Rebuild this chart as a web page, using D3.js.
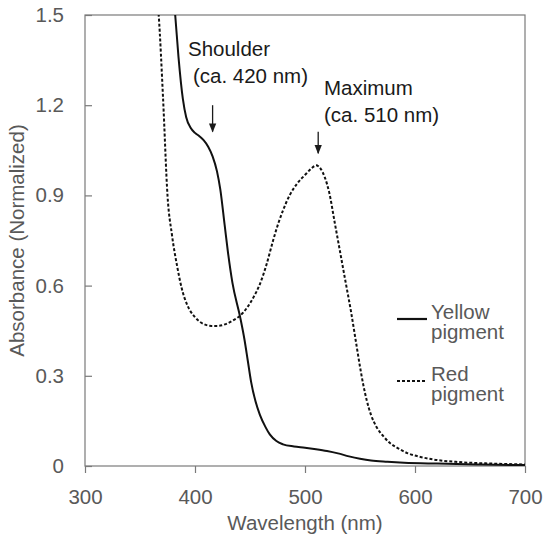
<!DOCTYPE html>
<html lang="en">
  <head>
    <meta charset="UTF-8" />
    <title>Absorbance spectra</title>
    <script src="https://cdnjs.cloudflare.com/ajax/libs/d3/7.8.5/d3.min.js"></script>
    <style>
      body {
        margin: 0;
        background: #fff;
      }
      text {
        font-family: "Liberation Sans", Arial, sans-serif;
      }
      .tick-label,
      .axis-title,
      .legend-text {
        fill: #595959;
        font-size: 20.5px;
      }
      .note {
        fill: #1a1a1a;
        font-size: 20.5px;
      }
    </style>
  </head>
  <body>
    <div id="chart"></div>
    <script>
      // spectra: [wavelength nm, normalized absorbance]
      const yellowPigment = [
        [379, 1.62], [382, 1.5], [385, 1.36], [389, 1.22], [392, 1.16],
        [396, 1.125], [400, 1.108], [404, 1.097], [408, 1.083], [412, 1.062],
        [416, 1.03], [420, 0.98], [423, 0.92], [427, 0.8], [430, 0.71],
        [434, 0.61], [441, 0.496], [445, 0.42], [448, 0.35], [451, 0.28],
        [455, 0.215], [459, 0.17], [464, 0.13], [468, 0.105], [474, 0.083],
        [480, 0.072], [490, 0.065], [500, 0.061], [510, 0.056], [520, 0.05],
        [530, 0.042], [540, 0.032], [550, 0.024], [560, 0.018], [575, 0.014],
        [590, 0.011], [620, 0.008], [660, 0.005], [700, 0.003]
      ];
      const redPigment = [
        [364, 1.62], [367, 1.5], [371, 1.22], [375, 0.9], [379, 0.77],
        [384, 0.66], [388, 0.59], [393, 0.535], [400, 0.495], [408, 0.472],
        [415, 0.466], [420, 0.466], [428, 0.472], [435, 0.485], [441, 0.5],
        [447, 0.525], [453, 0.56], [459, 0.605], [465, 0.67], [471, 0.75],
        [476, 0.81], [480, 0.85], [486, 0.9], [493, 0.94], [500, 0.968],
        [506, 0.99], [510, 1.0], [514, 0.99], [518, 0.96], [522, 0.91],
        [527, 0.81], [532, 0.71], [537, 0.61], [542, 0.51], [546, 0.42],
        [550, 0.33], [553, 0.27], [556, 0.22], [560, 0.17], [565, 0.13],
        [571, 0.1], [577, 0.077], [585, 0.058], [593, 0.043], [605, 0.03],
        [616, 0.022], [640, 0.013], [670, 0.008], [700, 0.005]
      ];

      const xTicks = [300, 400, 500, 600, 700];
      const yTicks = [0, 0.3, 0.6, 0.9, 1.2, 1.5];

      const seriesNames = ["Yellow\npigment", "Red\npigment"];

      // annotation: arrow [wavelength, top value, bottom value], label top-left [wavelength, value]
      const notes = [
        { text: ["Shoulder", "(ca. 420 nm)"], arrow: [416, 1.2, 1.112], label: [393.6, 1.364] },
        { text: ["Maximum", "(ca. 510 nm)"], arrow: [512, 1.112, 1.04], label: [517.3, 1.234] }
      ];

      const width = 550;
      const height = 541;
      const margin = { top: 15, right: 25, bottom: 75, left: 85 };

      const svg = d3
        .select("#chart")
        .append("svg")
        .attr("width", width)
        .attr("height", height);

      const x = d3
        .scaleLinear()
        .domain([300, 700])
        .range([margin.left, width - margin.right]);
      const y = d3
        .scaleLinear()
        .domain([0, 1.5])
        .range([height - margin.bottom, margin.top]);

      const defs = svg.append("defs");
      defs
        .append("clipPath")
        .attr("id", "plot-clip")
        .append("rect")
        .attr("x", x(300))
        .attr("y", y(1.5))
        .attr("width", x(700) - x(300))
        .attr("height", y(0) - y(1.5));

      defs
        .append("marker")
        .attr("id", "arrow")
        .attr("viewBox", "0 0 10 10")
        .attr("refX", 9)
        .attr("refY", 5)
        .attr("markerWidth", 7)
        .attr("markerHeight", 7)
        .attr("orient", "auto")
        .append("path")
        .attr("d", "M0,1 L10,5 L0,9 Z")
        .attr("fill", "#1a1a1a");

      // frame
      svg
        .append("rect")
        .attr("x", x(300))
        .attr("y", y(1.5))
        .attr("width", x(700) - x(300))
        .attr("height", y(0) - y(1.5))
        .attr("fill", "none")
        .attr("stroke", "#7a7a7a")
        .attr("stroke-width", 1.2);

      // x axis (ticks point down)
      const xAxis = svg
        .append("g")
        .attr("transform", `translate(0,${y(0)})`)
        .call(d3.axisBottom(x).tickValues(xTicks).tickSize(7).tickPadding(16));
      xAxis.select(".domain").remove();
      xAxis.selectAll("line").attr("stroke", "#7a7a7a").attr("stroke-width", 1.2);
      xAxis
        .selectAll("text")
        .attr("class", "tick-label")
        .attr("font-size", null)
        .attr("font-family", null);

      // y axis (ticks point inward)
      const yAxis = svg
        .append("g")
        .attr("transform", `translate(${x(300)},0)`)
        .call(
          d3
            .axisLeft(y)
            .tickValues(yTicks)
            .tickSize(-7)
            .tickPadding(21)
            .tickFormat((d) => (d === 0 ? "0" : d3.format(".1f")(d)))
        );
      yAxis.select(".domain").remove();
      yAxis.selectAll("line").attr("stroke", "#7a7a7a").attr("stroke-width", 1.2);
      yAxis
        .selectAll("text")
        .attr("class", "tick-label")
        .attr("font-size", null)
        .attr("font-family", null);

      svg
        .append("text")
        .attr("class", "axis-title")
        .attr("x", (x(300) + x(700)) / 2)
        .attr("y", 530)
        .attr("text-anchor", "middle")
        .text("Wavelength (nm)");

      svg
        .append("text")
        .attr("class", "axis-title")
        .attr("transform", `translate(24,${(y(0) + y(1.5)) / 2}) rotate(-90)`)
        .attr("text-anchor", "middle")
        .text("Absorbance (Normalized)");

      // curves
      const line = d3
        .line()
        .x((d) => x(d[0]))
        .y((d) => y(d[1]))
        .curve(d3.curveMonotoneX);

      const plot = svg.append("g").attr("clip-path", "url(#plot-clip)");

      plot
        .append("path")
        .datum(redPigment)
        .attr("d", line)
        .attr("fill", "none")
        .attr("stroke", "#111")
        .attr("stroke-width", 2)
        .attr("stroke-dasharray", "3,2");

      plot
        .append("path")
        .datum(yellowPigment)
        .attr("d", line)
        .attr("fill", "none")
        .attr("stroke", "#111")
        .attr("stroke-width", 2);

      // annotations
      notes.forEach((n) => {
        const [wl, top, bottom] = n.arrow;
        svg
          .append("line")
          .attr("x1", x(wl))
          .attr("x2", x(wl))
          .attr("y1", y(top))
          .attr("y2", y(bottom))
          .attr("stroke", "#1a1a1a")
          .attr("stroke-width", 1.3)
          .attr("marker-end", "url(#arrow)");
        const t = svg
          .append("text")
          .attr("class", "note")
          .attr("x", x(n.label[0]))
          .attr("y", y(n.label[1]));
        t.append("tspan").attr("x", x(n.label[0])).text(n.text[0]);
        t.append("tspan")
          .attr("x", x(n.label[0]) + (n.text[0] === "Shoulder" ? 5 : 0))
          .attr("dy", 27)
          .text(n.text[1]);
      });

      // legend
      const legend = svg
        .selectAll(".legend")
        .data(seriesNames)
        .enter()
        .append("g")
        .attr("class", "legend")
        .attr("transform", (d, i) => `translate(397,${319 + i * 62})`);

      legend
        .append("line")
        .attr("x1", 0)
        .attr("x2", 30)
        .attr("y1", 0)
        .attr("y2", 0)
        .attr("stroke", "#111")
        .attr("stroke-width", (d, i) => (i === 0 ? 2.2 : 2))
        .attr("stroke-dasharray", (d, i) => (i === 0 ? null : "3,2"));

      legend
        .append("text")
        .attr("class", "legend-text")
        .selectAll("tspan")
        .data((d) => d.split("\n"))
        .enter()
        .append("tspan")
        .attr("x", 34)
        .attr("y", (d, i) => i * 20)
        .text((d) => d);
    </script>
  </body>
</html>
